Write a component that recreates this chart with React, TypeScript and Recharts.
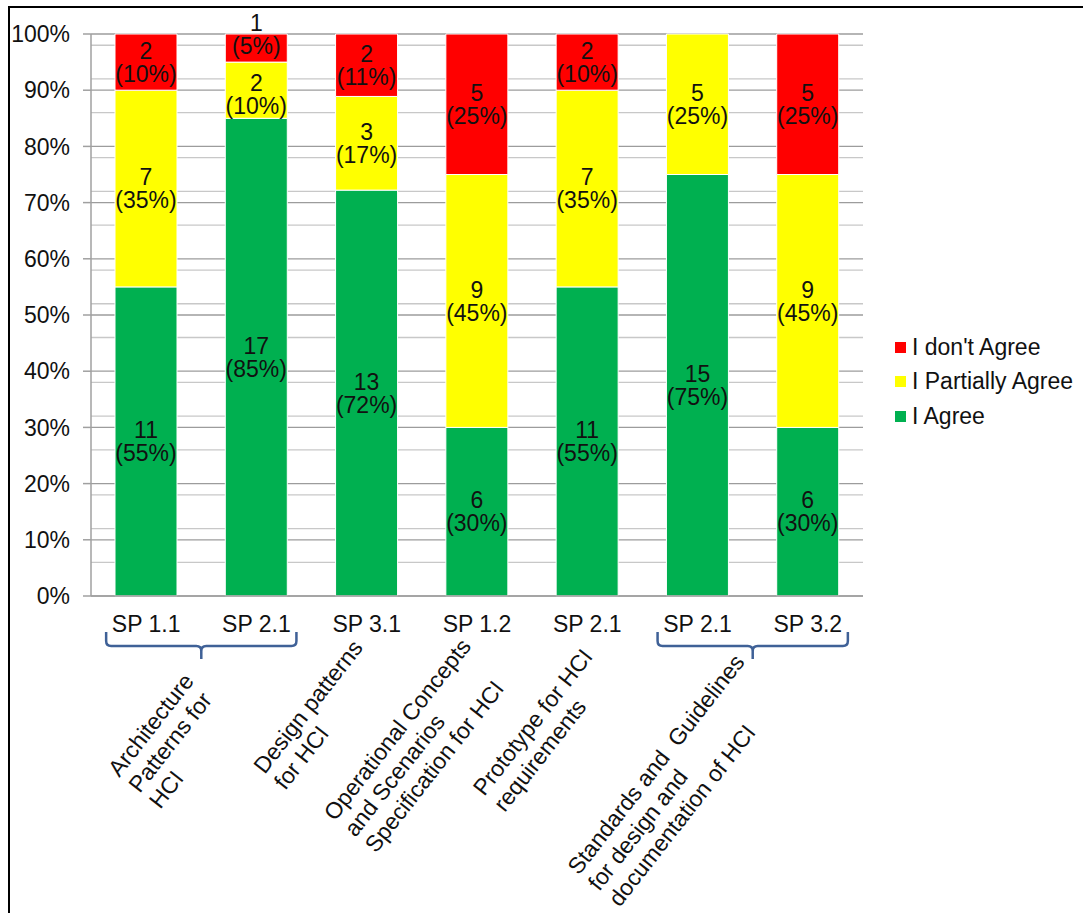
import React from "react";
import {
  BarChart,
  Bar,
  XAxis,
  YAxis,
  CartesianGrid,
  Legend,
  LabelList,
} from "recharts";

const SP_LABELS = ["SP 1.1", "SP 2.1", "SP 3.1", "SP 1.2", "SP 2.1", "SP 2.1", "SP 3.2"];
const AGREE = [11, 17, 13, 6, 11, 15, 6];
const PARTIAL = [7, 2, 3, 9, 7, 5, 9];
const DISAGREE = [2, 1, 2, 5, 2, 0, 5];
const SERIES_NAMES = ["I Agree", "I Partially Agree", "I don't Agree"];
const Y_TICKS = [0, 0.1, 0.2, 0.3, 0.4, 0.5, 0.6, 0.7, 0.8, 0.9, 1];

// process areas, each spanning one or more SP columns
const GROUPS = [
  { from: 0, to: 1, lines: ["Architecture", "Patterns for", "HCI"] },
  { from: 2, to: 2, lines: ["Design patterns", "for HCI"] },
  { from: 3, to: 3, lines: ["Operational Concepts", "and Scenarios", "Specification for HCI"] },
  { from: 4, to: 4, lines: ["Prototype for HCI", "requirements"] },
  { from: 5, to: 6, lines: ["Standards and  Guidelines", "for design and", "documentation of HCI"] },
];
// where each rotated label starts (dx from group centre, y in svg px)
const GROUP_LABEL_START = [
  [-82, 770],
  [-102, 767],
  [-142, 814],
  [-103, 789],
  [-174, 868],
];

const COLORS = { agree: "#00b050", partial: "#ffff00", disagree: "#ff0000" };
const FONT = "'Liberation Sans', Arial, sans-serif";
const TEXT = "#111";
const FS = 23;

const CHART_W = 1073;
const CHART_H = 905;
const PLOT_LEFT = 81;
const PLOT_TOP = 26;
const PLOT_BOTTOM = 588;
const LEGEND_W = 220;
const PLOT_W = CHART_W - LEGEND_W - PLOT_LEFT;
const STEP = PLOT_W / SP_LABELS.length;

const data = SP_LABELS.map((_, i) => ({
  id: i,
  agree: AGREE[i],
  partial: PARTIAL[i],
  disagree: DISAGREE[i],
}));

const minorGrid: number[] = [];
for (let v = 2; v < 100; v += 2) if (v % 10 !== 0) minorGrid.push(v / 100);

const makeLabel = (series: "agree" | "partial" | "disagree") => (props: any) => {
  const { x, y, width, height } = props;
  // zero-height slices are dropped, so find the column from the position
  const index = Math.floor((x + width / 2 - PLOT_LEFT) / STEP);
  const counts = series === "agree" ? AGREE : series === "partial" ? PARTIAL : DISAGREE;
  const n = counts[index];
  if (!n) return null;
  const total = AGREE[index] + PARTIAL[index] + DISAGREE[index];
  const pct = Math.round((n / total) * 100);
  const cx = x + width / 2;
  let cy = y + height / 2;
  // tiny top slice: Excel pushes the label up and the one below down
  if (series === "disagree" && height < 40) cy = y;
  if (series === "partial" && DISAGREE[index] > 0 && DISAGREE[index] / total < 0.08) {
    const barTop = y - (height * DISAGREE[index]) / PARTIAL[index];
    cy = Math.max(cy, barTop + 60);
  }
  return (
    <text textAnchor="middle" fontSize={FS} fill={TEXT} fontFamily={FONT}>
      <tspan x={cx} y={cy - 11.5} dy="0.35em">
        {n}
      </tspan>
      <tspan x={cx} y={cy + 11.5} dy="0.35em">
        ({pct}%)
      </tspan>
    </text>
  );
};

const XTick = (props: any) => {
  const { x, payload } = props;
  const i = Number(payload.value);
  const gi = GROUPS.findIndex((g) => g.from === i);
  const group = gi >= 0 ? GROUPS[gi] : null;
  let extra = null;
  if (group) {
    const span = (group.to - group.from) * STEP;
    const gx = x + span / 2;
    const [dx, ay] = GROUP_LABEL_START[gi];
    let brace = null;
    if (group.to > group.from) {
      const xl = x - 40;
      const xr = x + span + 40;
      const yt = 624;
      const yh = 638;
      const yn = 651;
      const r = 5;
      brace = (
        <path
          d={`M${xl},${yt} V${yh - r} Q${xl},${yh} ${xl + r},${yh} H${gx - r} Q${gx},${yh} ${gx},${yh + r} V${yn} M${gx},${yh + r} Q${gx},${yh} ${gx + r},${yh} H${xr - r} Q${xr},${yh} ${xr},${yh - r} V${yt}`}
          fill="none"
          stroke="#3f6197"
          strokeWidth={2.5}
        />
      );
    }
    extra = (
      <g>
        {brace}
        <text
          transform={`translate(${gx + dx},${ay}) rotate(-52)`}
          fontSize={FS}
          fill={TEXT}
          fontFamily={FONT}
        >
          {group.lines.map((line, k) => (
            <tspan key={k} x={0} y={k * 26} style={{ whiteSpace: "pre" }}>
              {line}
            </tspan>
          ))}
        </text>
      </g>
    );
  }
  return (
    <g>
      <text x={x} y={PLOT_BOTTOM + 36} textAnchor="middle" fontSize={FS} fill={TEXT} fontFamily={FONT}>
        {SP_LABELS[i]}
      </text>
      {extra}
    </g>
  );
};

const LegendContent = () => {
  const items = [
    { name: SERIES_NAMES[2], color: COLORS.disagree },
    { name: SERIES_NAMES[1], color: COLORS.partial },
    { name: SERIES_NAMES[0], color: COLORS.agree },
  ];
  return (
    <div style={{ paddingLeft: 32, fontFamily: FONT, fontSize: FS, color: TEXT }}>
      {items.map((it) => (
        <div
          key={it.name}
          style={{ height: 34.5, display: "flex", alignItems: "center", whiteSpace: "nowrap" }}
        >
          <span style={{ width: 11, height: 11, background: it.color, marginRight: 6, display: "inline-block" }} />
          {it.name}
        </div>
      ))}
    </div>
  );
};

export default function App() {
  return (
    // cropped frame: only the top and left edges show
    <div
      style={{
        position: "absolute",
        top: 6,
        left: 8,
        width: CHART_W + 2,
        height: CHART_H + 2,
        borderTop: "2px solid #000",
        borderLeft: "2px solid #000",
        fontFamily: FONT,
        background: "#fff",
      }}
    >
      <BarChart
        width={CHART_W}
        height={CHART_H}
        data={data}
        stackOffset="expand"
        margin={{ top: PLOT_TOP, right: 0, bottom: 0, left: 0 }}
      >
        <CartesianGrid vertical={false} horizontalValues={minorGrid} stroke="#c8c8c8" strokeWidth={1.3} />
        <CartesianGrid vertical={false} horizontalValues={Y_TICKS} stroke="#9c9c9c" strokeWidth={1.3} />
        <XAxis
          dataKey="id"
          type="category"
          height={CHART_H - PLOT_BOTTOM}
          tickLine={false}
          axisLine={{ stroke: "#a0a0a0", strokeWidth: 1.5 }}
          tick={<XTick />}
          interval={0}
        />
        <YAxis
          type="number"
          domain={[0, 1]}
          ticks={Y_TICKS}
          width={PLOT_LEFT}
          tickFormatter={(v: number) => `${Math.round(v * 100)}%`}
          tickSize={8}
          tickMargin={13}
          axisLine={{ stroke: "#a0a0a0", strokeWidth: 1.5 }}
          tickLine={{ stroke: "#a0a0a0", strokeWidth: 1.5 }}
          tick={{ fontSize: FS, fill: TEXT, fontFamily: FONT }}
        />
        <Legend
          layout="vertical"
          align="right"
          verticalAlign="top"
          content={<LegendContent />}
          wrapperStyle={{ top: 322, right: 0, width: LEGEND_W }}
        />
        <Bar dataKey="agree" name={SERIES_NAMES[0]} stackId="a" fill={COLORS.agree} barSize={62} stroke="#fff" strokeWidth={1} isAnimationActive={false}>
          <LabelList dataKey="agree" content={makeLabel("agree")} />
        </Bar>
        <Bar dataKey="partial" name={SERIES_NAMES[1]} stackId="a" fill={COLORS.partial} barSize={62} stroke="#fff" strokeWidth={1} isAnimationActive={false}>
          <LabelList dataKey="partial" content={makeLabel("partial")} />
        </Bar>
        <Bar dataKey="disagree" name={SERIES_NAMES[2]} stackId="a" fill={COLORS.disagree} barSize={62} stroke="#fff" strokeWidth={1} isAnimationActive={false}>
          <LabelList dataKey="disagree" content={makeLabel("disagree")} />
        </Bar>
      </BarChart>
    </div>
  );
}
